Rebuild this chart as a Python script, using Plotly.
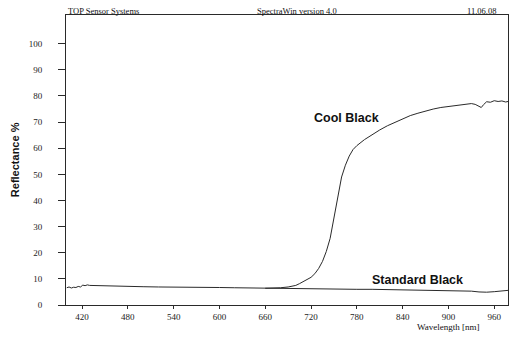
import plotly.graph_objects as go

# Standard Black spectrum
std_wl = [400, 403, 406, 409, 412, 415, 418, 421, 424, 427, 430, 440, 450, 460, 470, 480,
          500, 520, 540, 560, 580, 600, 620, 640, 660, 680, 700, 720, 740, 760, 780, 800,
          820, 840, 860, 880, 900, 910, 920, 930, 940, 950, 960, 970, 978]
std_val = [6.6, 6.9, 6.5, 6.8, 6.7, 7.1, 6.9, 7.6, 7.4, 7.7, 7.5, 7.4, 7.3, 7.3, 7.2, 7.2,
           7.0, 6.9, 6.9, 6.8, 6.8, 6.7, 6.6, 6.5, 6.4, 6.4, 6.3, 6.3, 6.2, 6.1, 6.0, 6.0,
           5.9, 5.9, 5.8, 5.8, 5.7, 5.6, 5.5, 5.3, 5.0, 4.9, 5.1, 5.5, 5.6]

# Cool Black spectrum (overlaps Standard Black below ~660 nm)
cool_wl = [660, 670, 680, 690, 700, 705, 710, 715, 720, 725, 730, 735, 740, 745, 750, 755,
           760, 765, 770, 775, 780, 790, 800, 810, 820, 830, 840, 850, 860, 870, 880, 890,
           900, 910, 920, 930, 935, 940, 943, 946, 950, 955, 960, 965, 970, 975, 978]
cool_val = [6.4, 6.4, 6.6, 6.9, 7.5, 8.2, 8.9, 9.8, 10.6, 12.0, 14.0, 16.7, 20.5, 25.5, 33.0, 41.5,
            49.0, 53.5, 57.0, 59.5, 61.0, 63.3, 65.2, 67.0, 68.6, 70.0, 71.3, 72.5, 73.4, 74.3, 75.0, 75.6,
            76.0, 76.4, 76.9, 77.1, 76.8, 75.9, 75.6, 76.7, 77.8, 77.6, 78.2, 77.9, 78.1, 77.7, 77.9]

x_ticks = [420, 480, 540, 600, 660, 720, 780, 840, 900, 960]
y_ticks = [0, 10, 20, 30, 40, 50, 60, 70, 80, 90, 100]

line_col = "#2a2a2a"
serif = "Liberation Serif, Times New Roman, serif"
sans = "Liberation Sans, Arial, sans-serif"

fig = go.Figure()
fig.add_trace(go.Scatter(x=std_wl, y=std_val, mode="lines", name="Standard Black",
                         line=dict(color=line_col, width=1), showlegend=False))
fig.add_trace(go.Scatter(x=cool_wl, y=cool_val, mode="lines", name="Cool Black",
                         line=dict(color=line_col, width=1), showlegend=False))

fig.update_layout(
    width=515, height=337,
    margin=dict(l=66, r=7, t=15, b=32),
    paper_bgcolor="white", plot_bgcolor="white",
    xaxis=dict(range=[399, 978], tickvals=x_ticks, ticktext=[str(v) for v in x_ticks],
               showgrid=False, zeroline=False, showline=True, linecolor=line_col, linewidth=1,
               mirror=True, ticks="outside", ticklen=3, tickcolor=line_col,
               tickfont=dict(family=serif, size=9, color="#222")),
    yaxis=dict(range=[0, 111], tickvals=y_ticks, ticktext=[str(v) for v in y_ticks],
               showgrid=False, zeroline=False, showline=True, linecolor=line_col, linewidth=1,
               mirror=True, ticks="outside", ticklen=7, tickcolor=line_col,
               ticklabelstandoff=14,
               tickfont=dict(family=serif, size=9, color="#222")),
    annotations=[
        dict(text="TOP Sensor Systems", xref="paper", yref="paper", x=0, y=1, xanchor="left",
             yanchor="bottom", showarrow=False, font=dict(family=serif, size=8.5, color="#111"), yshift=-3),
        dict(text="SpectraWin version 4.0", xref="paper", yref="paper", x=0.522, y=1, xanchor="center",
             yanchor="bottom", showarrow=False, font=dict(family=serif, size=8.5, color="#111"), yshift=-3),
        dict(text="11.06.08", xref="paper", yref="paper", x=0.977, y=1, xanchor="right",
             yanchor="bottom", showarrow=False, font=dict(family=serif, size=8.5, color="#111"), yshift=-3),
        dict(text="<b>Reflectance %</b>", xref="paper", yref="paper", x=-0.115, y=0.5,
             xanchor="center", yanchor="middle", textangle=-90, showarrow=False,
             font=dict(family=sans, size=11, color="#111")),
        dict(text="Wavelength [nm]", xref="paper", yref="paper", x=0.941, y=0, xanchor="right",
             yanchor="top", yshift=-15, showarrow=False, font=dict(family=serif, size=9, color="#111")),
        dict(text="<b>Cool Black</b>", x=767, y=71.6, xref="x", yref="y", showarrow=False,
             font=dict(family=sans, size=12.5, color="#111")),
        dict(text="<b>Standard Black</b>", x=859, y=9.6, xref="x", yref="y", showarrow=False,
             font=dict(family=sans, size=12.5, color="#111")),
    ],
)

fig.write_html("out.html")
